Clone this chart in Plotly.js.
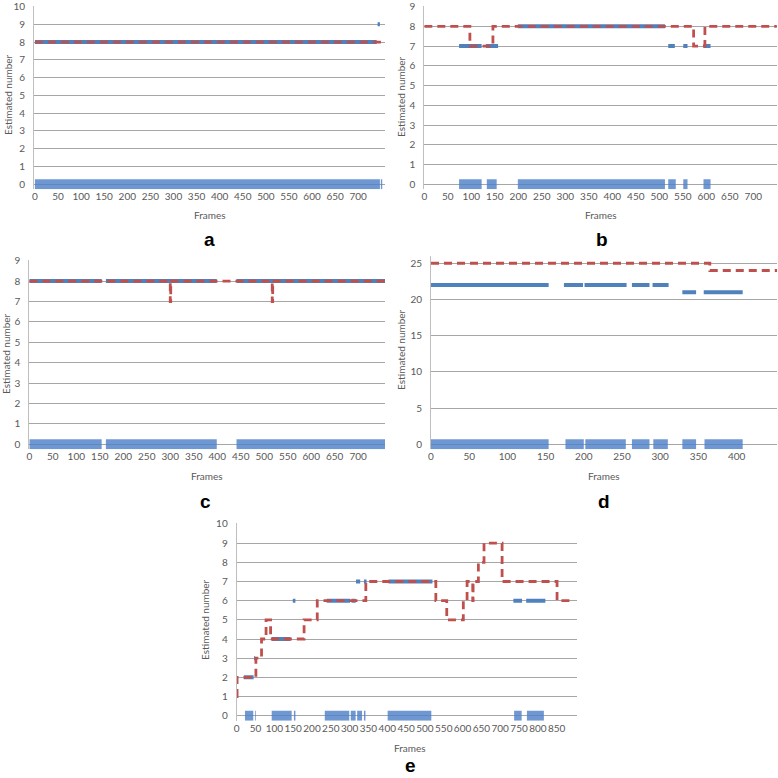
<!DOCTYPE html>
<html><head><meta charset="utf-8">
<script src="https://cdn.plot.ly/plotly-3.0.1.min.js"></script>
<style>html,body{margin:0;padding:0;background:#fff}#chart{width:778px;height:778px}</style>
</head><body><div id="chart"></div>
<script>
// ---- Data (frames) ----
// estimated number segments: [startFrame, endFrame, value]
const aEstimated = [[0,740,8],[742,747,9]];
const bEstimated = [[74,122,7],[131,157,7],[199,512,8],[519,533,7],[551,560,7],[594,609,7]];
const cEstimated = [[0,154,8],[163,399,8],[441,757,8]];
const dEstimated = [[0,154,22],[174,199,22],[201,256,22],[263,286,22],[290,311,22],[329,347,21],[357,408,21]];
const eEstimated = [[19,45,2],[46,49,3],[93,143,4],[149,156,6],[239,301,6],[305,316,6],[317,328,7],[338,345,7],[403,520,7],[735,758,6],[769,820,6]];

// ground truth steps: [frame, value] (value holds until next frame)
const aTruth = [[0,8],[758,8]];
const bTruth = [[0,8],[97,7],[146,8],[573,7],[597,8],[750,8]];
const cTruth = [[0,8],[300,7],[301,8],[517,7],[518,8],[757,8]];
const dTruth = [[0,25],[365,24],[453,24]];
const eTruth = [[0,1],[1,2],[51,3],[66,4],[78,5],[90,4],[179,5],[214,6],[343,7],[529,6],[558,5],[602,6],[612,7],[627,6],[628,7],[642,8],[657,9],[705,7],[851,6],[890,6]];

// detection intervals drawn along y = 0: [startFrame, endFrame]
const aDetected = [[0,747],[749,752]];
const bDetected = [[74,122],[133,154],[199,512],[519,535],[551,560],[594,609]];
const cDetected = [[0,154],[163,399],[401,402],[441,757]];
const dDetected = [[0,154],[176,200],[202,255],[263,286],[291,310],[329,347],[358,408]];
const eDetected = [[22,44],[49,51],[93,146],[152,156],[234,299],[303,316],[320,333],[338,342],[401,517],[737,757],[771,816]];

// tick labels
const xTicksLong = [0,50,100,150,200,250,300,350,400,450,500,550,600,650,700];
const xTicksD = [0,50,100,150,200,250,300,350,400];
const xTicksE = [0,50,100,150,200,250,300,350,400,450,500,550,600,650,700,750,800,850];

const panelLabels = ['a','b','c','d','e'];
const xTitle = 'Frames';
const yTitle = 'Estimated number';

// ---- helpers ----
function segXY(segs){const x=[],y=[];segs.forEach(s=>{x.push(s[0],s[1],null);y.push(s[2],s[2],null);});return {x,y};}
function bandXY(segs){const x=[],y=[];segs.forEach(s=>{x.push(s[0],s[1],null);y.push(0,0,null);});return {x,y};}

const panels = [
  {est:aEstimated, truth:aTruth, det:aDetected},
  {est:bEstimated, truth:bTruth, det:bDetected},
  {est:cEstimated, truth:cTruth, det:cDetected},
  {est:dEstimated, truth:dTruth, det:dDetected},
  {est:eEstimated, truth:eTruth, det:eDetected}
];

const BLUE='#4f81bd', BAND='rgba(79,129,200,0.82)', RED='#c0504d';
const traces=[];
panels.forEach((p,i)=>{
  const xa='x'+(i?i+1:''), ya='y'+(i?i+1:'');
  const b=bandXY(p.det);
  traces.push({x:b.x,y:b.y,xaxis:xa,yaxis:ya,mode:'lines',line:{color:BAND,width:10},connectgaps:false,hoverinfo:'skip',showlegend:false});
  const e=segXY(p.est);
  traces.push({x:e.x,y:e.y,xaxis:xa,yaxis:ya,mode:'lines',line:{color:BLUE,width:4},connectgaps:false,showlegend:false});
  traces.push({x:p.truth.map(t=>t[0]),y:p.truth.map(t=>t[1]),xaxis:xa,yaxis:ya,mode:'lines',line:{color:RED,width:2.8,dash:'8px,5px',shape:'hv'},showlegend:false});
});

const W=778;
const FONT='Lato, "Liberation Sans", sans-serif';
const tickFont={family:FONT,size:10,color:'#595959'};
function xax(dom,range,anchor,vals){
  return {domain:[dom[0]/W,dom[1]/W],range:range,anchor:anchor,tickmode:'array',tickvals:vals,
    showgrid:false,zeroline:false,showline:false,ticks:'',tickfont:tickFont,tickangle:0,fixedrange:true,ticklabeloverflow:'allow'};
}
function yax(top,bottom,range,dtick,anchor){
  return {domain:[1-bottom/W,1-top/W],range:range,anchor:anchor,tick0:0,dtick:dtick,tickmode:'linear',
    showgrid:true,gridcolor:'#a6a6a6',gridwidth:1,zeroline:true,zerolinecolor:'#a6a6a6',zerolinewidth:1,
    showline:true,linecolor:'#bfbfbf',linewidth:1,ticks:'',ticklabelstandoff:6,tickfont:tickFont,fixedrange:true,
    ticklabeloverflow:'allow'};
}

const layout={
  width:778,height:778,margin:{l:0,r:0,t:0,b:0},paper_bgcolor:'#fff',plot_bgcolor:'#fff',showlegend:false,
  font:{family:FONT,color:'#595959'},
  xaxis: xax([34,385],[-2,758],'y',xTicksLong),
  yaxis: yax(6.0,189.3,[-0.28,10.03],1,'x'),
  xaxis2: xax([424.3,777],[0,750.4],'y2',xTicksLong),
  yaxis2: yax(6.0,189.3,[-0.25,9.03],1,'x2'),
  xaxis3: xax([29.3,385],[0,757],'y3',xTicksLong),
  yaxis3: yax(260.1,449.3,[-0.245,9.03],1,'x3'),
  xaxis4: xax([431,777.3],[0,453.3],'y4',xTicksD),
  yaxis4: yax(256,449.3,[-0.69,26],5,'x4'),
  xaxis5: xax([236.7,577],[0,904],'y5',xTicksE),
  yaxis5: yax(523.4,720.7,[-0.26,10.03],1,'x5'),
  annotations:[]
};

function ann(text,x,y,opts){
  return Object.assign({text:text,x:x/W,y:1-y/W,xref:'paper',yref:'paper',showarrow:false,xanchor:'center',yanchor:'middle',
    font:{family:FONT,size:10,color:'#595959'}},opts||{});
}
const xTitlePos=[[210,215],[601,215],[207,476],[604,476],[410,748]];
const yTitlePos=[[8,95],[401,97],[6,354],[401,350],[205,620]];
const labelPos=[[209,240],[602,240],[205,501],[604,501],[410,777]];
for(let i=0;i<5;i++){
  layout.annotations.push(ann(xTitle,xTitlePos[i][0],xTitlePos[i][1]));
  layout.annotations.push(ann(yTitle,yTitlePos[i][0],yTitlePos[i][1],{textangle:-90}));
  const lab=ann('<b>'+panelLabels[i]+'</b>',labelPos[i][0],labelPos[i][1],{font:{family:'"Liberation Sans", Arial, sans-serif',size:19,color:'#000'},borderpad:0});
  if(i===4){lab.yanchor='bottom';}
  layout.annotations.push(lab);
}

Plotly.newPlot('chart',traces,layout,{staticPlot:true,displayModeBar:false});
</script>
</body></html>
